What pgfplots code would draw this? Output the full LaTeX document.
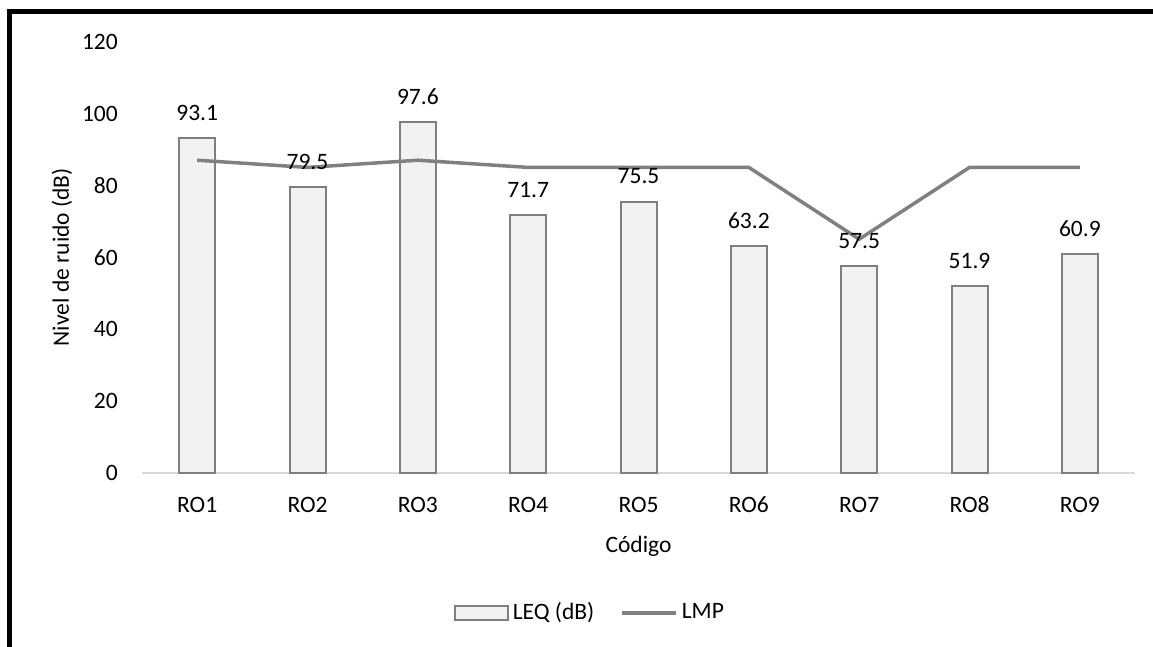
\documentclass[border=0pt]{standalone}
\usepackage{pgfplots}
\pgfplotsset{compat=1.18}
\usepackage{fontspec}
\setmainfont{Carlito}

\definecolor{barfill}{HTML}{F2F2F2}
\definecolor{baredge}{HTML}{7F7F7F}
\definecolor{lmpline}{HTML}{808080}
\definecolor{axisgray}{HTML}{D9D9D9}

\pgfplotsset{
  barlegend/.style={legend image code/.code={\draw[##1, line width=2pt] (0pt,-7pt) rectangle (53pt,7pt);}},
  linelegend/.style={legend image code/.code={\draw[##1] (0pt,0pt) -- (54pt,0pt);}},
}

\begin{document}
\fontsize{23.5pt}{27pt}\selectfont
\begin{tikzpicture}
  \useasboundingbox (0,0) rectangle (1153pt,646pt);
  % outer frame (cut at the right and bottom in the reference)
  \draw[line width=5pt] (9pt,-20pt) -- (9pt,634pt) -- (1200pt,634pt);

  \begin{axis}[
    at={(142pt,173.3pt)}, anchor=south west,
    scale only axis, width=993pt, height=431pt,
    xmin=0.5, xmax=9.5, ymin=0, ymax=120,
    xtick={1,...,9},
    xticklabels={RO1,RO2,RO3,RO4,RO5,RO6,RO7,RO8,RO9},
    ytick={0,20,...,120},
    axis x line*=bottom, axis y line*=left,
    x axis line style={draw=axisgray, line width=2pt},
    y axis line style={draw=none},
    major tick length=0pt,
    /pgf/number format/assume math mode=true,
    xticklabel style={anchor=center, inner sep=0pt, yshift=-32pt},
    yticklabel style={anchor=east, inner sep=0pt, xshift=-24pt},
    xlabel={Código},
    xlabel style={at={(axis description cs:0.5,-0.172)}, anchor=center},
    ylabel={Nivel de ruido (dB)},
    ylabel style={at={(axis description cs:-0.0806,0.5)}, anchor=center, rotate=0},
    legend style={at={(0.451,-0.3255)}, anchor=center, draw=none,
      legend columns=2, column sep=2pt,
      /tikz/every even column/.append style={column sep=24pt}},
    legend cell align=left,
    clip=false,
  ]
    \addplot[ybar, bar width=36pt, fill=barfill, draw=baredge, line width=2pt, barlegend]
      coordinates {(1,93.1) (2,79.5) (3,97.6) (4,71.7) (5,75.5) (6,63.2) (7,57.5) (8,51.9) (9,60.9)};
    \addlegendentry{LEQ (dB)}

    \addplot[lmpline, line width=3.5pt, mark=none, linelegend]
      coordinates {(1,87) (2,85) (3,87) (4,85) (5,85) (6,85) (7,65) (8,85) (9,85)};
    \addlegendentry{LMP}

    % data labels drawn last so they sit over the line
    \addplot[draw=none, mark=none, forget plot,
      nodes near coords, nodes near coords align=center,
      every node near coord/.append style={text=black, yshift=25pt,
        /pgf/number format/fixed, /pgf/number format/precision=1,
        /pgf/number format/fixed zerofill}]
      coordinates {(1,93.1) (2,79.5) (3,97.6) (4,71.7) (5,75.5) (6,63.2) (7,57.5) (8,51.9) (9,60.9)};
  \end{axis}
\end{tikzpicture}
\end{document}
